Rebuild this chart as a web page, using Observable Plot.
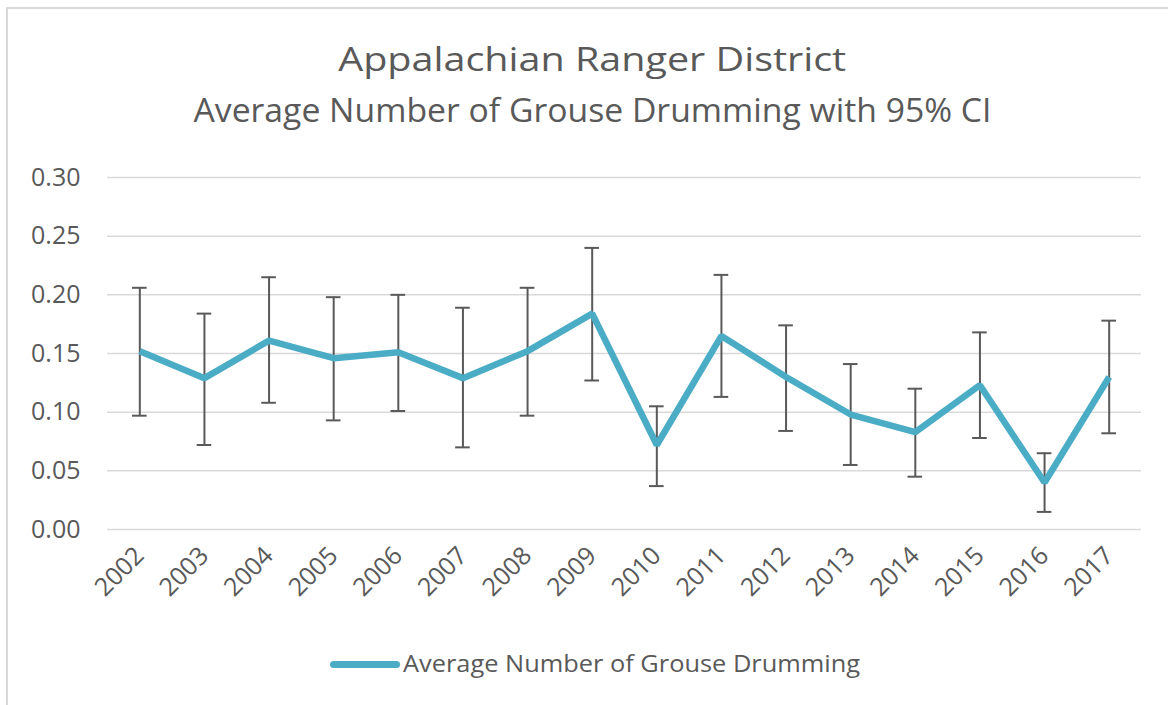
<!DOCTYPE html>
<html>
<head>
<meta charset="utf-8">
<script src="https://cdn.jsdelivr.net/npm/d3@7"></script>
<script src="https://cdn.jsdelivr.net/npm/@observablehq/plot@0.6"></script>
<style>
  html, body { margin: 0; padding: 0; background: #ffffff; }
  #wrap { position: relative; width: 1168px; height: 705px; overflow: hidden; font-family: "Open Sans", sans-serif; color: #595959; background: #fff; }
  #bt { position: absolute; left: 6px; top: 7px; right: 0; height: 2px; background: #d9d9d9; }
  #bl { position: absolute; left: 6px; top: 7px; width: 2px; bottom: 0; background: #d9d9d9; }
  .t { position: absolute; left: 0; width: 1184px; text-align: center; white-space: nowrap; line-height: 1; }
  .t span { display: inline-block; transform-origin: 50% 50%; }
  #title { top: 42px; font-size: 33px; }
  #subtitle { top: 93px; font-size: 33px; }
  #chart { position: absolute; left: 0; top: 150px; }
  #legline { position: absolute; left: 330px; top: 661px; width: 70px; height: 7px; border-radius: 3.5px; background: #4bacc6; }
  #legtext { position: absolute; left: 403px; top: 651px; font-size: 24px; line-height: 1; white-space: nowrap; transform-origin: 0 50%; }
</style>
</head>
<body>
<div id="wrap">
  <div id="bt"></div>
  <div id="bl"></div>
  <div class="t" id="title"><span>Appalachian Ranger District</span></div>
  <div class="t" id="subtitle"><span>Average Number of Grouse Drumming with 95% CI</span></div>
  <div id="chart"></div>
  <div id="legline"></div>
  <div id="legtext">Average Number of Grouse Drumming</div>
</div>
<script>
const years = [2002, 2003, 2004, 2005, 2006, 2007, 2008, 2009, 2010, 2011, 2012, 2013, 2014, 2015, 2016, 2017];
const means = [0.152, 0.129, 0.161, 0.146, 0.151, 0.129, 0.152, 0.184, 0.072, 0.165, 0.130, 0.098, 0.083, 0.123, 0.040, 0.130];
const upper = [0.206, 0.184, 0.215, 0.198, 0.200, 0.189, 0.206, 0.240, 0.105, 0.217, 0.174, 0.141, 0.120, 0.168, 0.065, 0.178];
const lower = [0.097, 0.072, 0.108, 0.093, 0.101, 0.070, 0.097, 0.127, 0.037, 0.113, 0.084, 0.055, 0.045, 0.078, 0.015, 0.082];
const yTicks = [0, 0.05, 0.10, 0.15, 0.20, 0.25, 0.30];

const data = years.map((yr, i) => ({ year: String(yr), mean: means[i], lo: lower[i], hi: upper[i] }));

const chart = Plot.plot({
  width: 1168,
  height: 470,
  marginTop: 27,
  marginBottom: 91,
  marginLeft: 107,
  marginRight: 27,
  style: { fontFamily: "Open Sans, sans-serif", fontSize: "25px", color: "#595959", background: "transparent", overflow: "visible" },
  x: { type: "band", domain: years.map(String), padding: 0, round: false, label: null },
  y: { domain: [0, 0.30], label: null },
  marks: [
    Plot.ruleY(yTicks, { stroke: "#d9d9d9", strokeWidth: 1.5 }),
    Plot.axisY({ ticks: yTicks, tickFormat: d3.format(".2f"), tickSize: 0, tickPadding: 27, fontSize: 25, fill: "#595959", label: null }),
    Plot.axisX({ tickSize: 0, tickRotate: -45, tickPadding: 22, fontSize: 25, fill: "#595959", label: null }),
    Plot.ruleX(data, { x: "year", y1: "lo", y2: "hi", stroke: "#595959", strokeWidth: 2 }),
    Plot.tickY(data, { x: "year", y: "hi", stroke: "#595959", strokeWidth: 2, insetLeft: 25, insetRight: 25 }),
    Plot.tickY(data, { x: "year", y: "lo", stroke: "#595959", strokeWidth: 2, insetLeft: 25, insetRight: 25 }),
    Plot.line(data, { x: "year", y: "mean", stroke: "#4bacc6", strokeWidth: 6.5, strokeLinejoin: "miter", strokeLinecap: "butt" })
  ]
});
document.getElementById("chart").appendChild(chart);

function fitWidth(el, target) {
  const w = el.getBoundingClientRect().width;
  if (w > 0) el.style.transform = `scaleX(${target / w})`;
}
fitWidth(document.querySelector("#title span"), 508);
fitWidth(document.querySelector("#subtitle span"), 798);
fitWidth(document.getElementById("legtext"), 457);
</script>
</body>
</html>
